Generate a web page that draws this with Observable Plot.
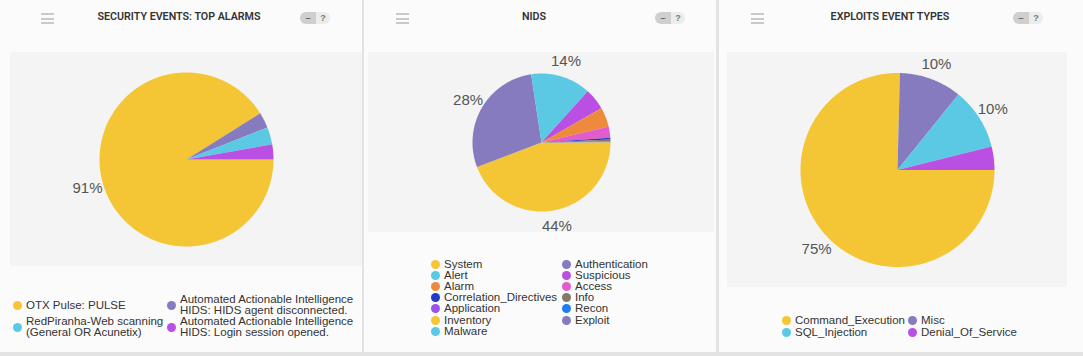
<!DOCTYPE html>
<html><head><meta charset="utf-8">
<script src="https://cdn.jsdelivr.net/npm/d3@7"></script>
<script src="https://cdn.jsdelivr.net/npm/@observablehq/plot@0.6"></script>
<style>
html,body{margin:0;padding:0;}
body{width:1083px;height:356px;overflow:hidden;position:relative;background:#fbfbfb;font-family:"Liberation Sans",Arial,sans-serif;}
.divider{position:absolute;top:0;height:352px;background:#e3e3e3;}
.bottom{position:absolute;left:0;top:352px;width:1083px;height:4px;background:#e3e3e3;}
.title{position:absolute;top:10px;transform:translateX(-50%);font-family:Roboto,"Liberation Sans",sans-serif;font-weight:600;font-size:10.7px;color:#333;white-space:nowrap;line-height:14px;}
.menu{position:absolute;top:13px;width:13px;height:11px;}
.menu i{display:block;height:2px;background:#c9c9c9;margin-bottom:2.5px;}
.toggle{position:absolute;top:12px;width:30px;height:12px;border-radius:6px;overflow:hidden;display:flex;font-size:9px;line-height:12px;font-weight:bold;}
.toggle .a{width:16px;background:#cfcfcf;color:#666;text-align:center;}
.toggle .b{width:14px;background:#ececec;color:#777;text-align:center;}
.plotbox{position:absolute;background:#f4f4f4;}
.plotbox svg{display:block;}
.legend{position:absolute;display:grid;align-items:center;font-size:11.5px;color:#333;}
.item{display:flex;align-items:center;}
.sw{width:9px;height:9px;border-radius:50%;margin-right:4px;flex:none;}
</style>
</head><body>
<div class="divider" style="left:362px;width:2px"></div>
<div class="divider" style="left:716px;width:3px"></div>
<div class="bottom"></div>
<div id="root"></div>
<script>
// ---- Data ----
const alarmLabels = ["OTX Pulse: PULSE", "Automated Actionable Intelligence HIDS: HIDS agent disconnected.", "RedPiranha-Web scanning (General OR Acunetix)", "Automated Actionable Intelligence HIDS: Login session opened."];
const alarmValues = [91.1, 2.9, 3.2, 2.8];

const nidsLabels = ["System", "Authentication", "Alert", "Suspicious", "Alarm", "Access", "Correlation_Directives", "Info", "Application", "Recon", "Inventory", "Exploit", "Malware"];
const nidsValues = [44.2, 28.4, 14.1, 5.0, 4.6, 2.6, 0.4, 0.4, 0.1, 0.1, 0.05, 0.03, 0.02];

const exploitLabels = ["Command_Execution", "Misc", "SQL_Injection", "Denial_Of_Service"];
const exploitValues = [75.4, 10.4, 10.3, 3.9];

const titles = ["SECURITY EVENTS: TOP ALARMS", "NIDS", "EXPLOITS EVENT TYPES"];

// ---- Styles ----
const alarmColors = ["#f4c636", "#857bbe", "#5bc9e3", "#b950e3"];
const nidsColors = ["#f4c636", "#857bbe", "#5bc9e3", "#b950e3", "#ee8a3b", "#e35ccb", "#2238c9", "#837966", "#9b52ec", "#1f7df2", "#f4c636", "#857bbe", "#5bc9e3"];
const exploitColors = ["#f4c636", "#857bbe", "#5bc9e3", "#b950e3"];

const root = document.getElementById("root");

function el(tag, cls, style, html) {
  const e = document.createElement(tag);
  if (cls) e.className = cls;
  if (style) e.setAttribute("style", style);
  if (html != null) e.innerHTML = html;
  root.appendChild(e);
  return e;
}

// Pie drawn clockwise from 3 o'clock (screen y points down in the identity projection)
function pieChart(labels, values, colors, w, h, r, labelMin) {
  const total = d3.sum(values);
  let acc = 0;
  const slices = labels.map((name, i) => {
    const a0 = acc / total * 2 * Math.PI;
    acc += values[i];
    const a1 = acc / total * 2 * Math.PI;
    return {name, value: values[i], a0, a1};
  });
  const features = slices.map(s => {
    const pts = [[0, 0]];
    const n = Math.max(2, Math.ceil((s.a1 - s.a0) / 0.01));
    for (let k = 0; k <= n; k++) {
      const t = s.a0 + (s.a1 - s.a0) * k / n;
      pts.push([r * Math.cos(t), r * Math.sin(t)]);
    }
    pts.push([0, 0]);
    return {type: "Feature", properties: {name: s.name}, geometry: {type: "Polygon", coordinates: [pts]}};
  });
  const labelData = slices.filter(s => s.value / total >= labelMin).map(s => {
    const m = (s.a0 + s.a1) / 2, R = r + 16;
    return {x: R * Math.cos(m), y: R * Math.sin(m), text: Math.round(s.value / total * 100) + "%"};
  });
  return Plot.plot({
    width: w, height: h, margin: 0,
    projection: {type: "identity", domain: {type: "MultiPoint", coordinates: [[-w / 2, -h / 2], [w / 2, h / 2]]}},
    color: {domain: labels, range: colors},
    style: {background: "transparent", overflow: "visible", fontFamily: "'Liberation Sans', Arial, sans-serif"},
    marks: [
      Plot.geo(features, {fill: d => d.properties.name}),
      Plot.text(labelData, {x: "x", y: "y", text: "text", fontSize: 15, fill: "#555"})
    ]
  });
}

function panel(cfg) {
  el("div", "menu", `left:${cfg.menuX}px`, "<i></i><i></i><i></i>");
  el("div", "title", `left:${cfg.titleX}px`, cfg.title);
  el("div", "toggle", `left:${cfg.toggleX}px`, '<span class="a">–</span><span class="b">?</span>');
  const box = el("div", "plotbox", `left:${cfg.box[0]}px;top:${cfg.box[1]}px;width:${cfg.box[2]}px;height:${cfg.box[3]}px`);
  box.appendChild(pieChart(cfg.labels, cfg.values, cfg.colors, cfg.box[2], cfg.box[3], cfg.r, 0.08));
  const lg = el("div", "legend", `left:${cfg.legend[0]}px;top:${cfg.legend[1]}px;grid-template-columns:${cfg.cols};line-height:${cfg.lh}px`);
  cfg.labels.forEach((name, i) => {
    const it = document.createElement("div");
    it.className = "item";
    it.innerHTML = `<span class="sw" style="background:${cfg.colors[i]}"></span><span>${name}</span>`;
    lg.appendChild(it);
  });
}

panel({title: titles[0], menuX: 41, titleX: 179, toggleX: 300, box: [10, 52, 352, 214], r: 87,
  labels: alarmLabels, values: alarmValues, colors: alarmColors, legend: [13, 294], cols: "154px 195px", lh: 11});
panel({title: titles[1], menuX: 396, titleX: 534, toggleX: 655, box: [368, 52, 346, 180], r: 69,
  labels: nidsLabels, values: nidsValues, colors: nidsColors, legend: [431, 258.5], cols: "131px auto", lh: 11.2});
panel({title: titles[2], menuX: 751, titleX: 890, toggleX: 1013, box: [727, 52, 340, 235], r: 97,
  labels: exploitLabels, values: exploitValues, colors: exploitColors, legend: [782, 314], cols: "126px auto", lh: 12});
</script>
</body></html>
